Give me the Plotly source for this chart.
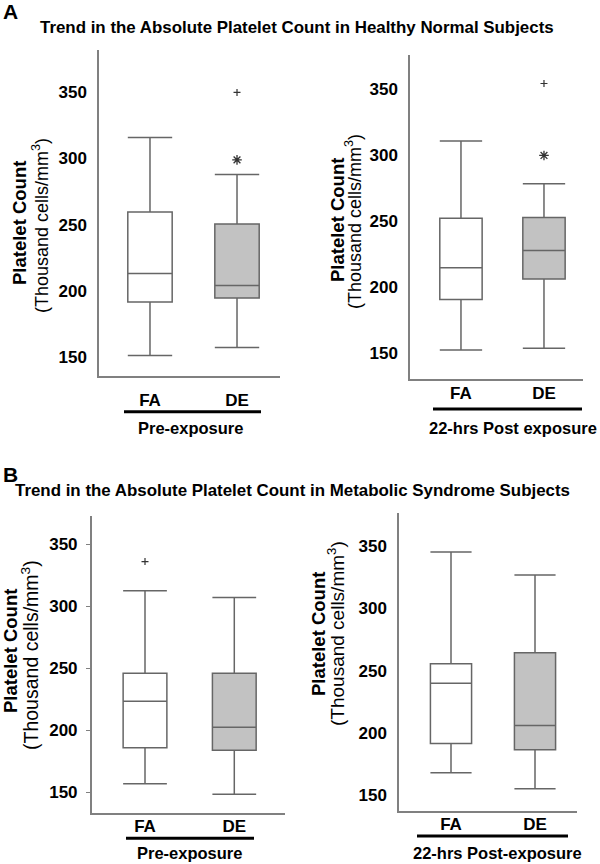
import plotly.graph_objects as go

# ---------------- data ----------------
categories = ["FA", "DE"]
y_ticks = [150, 200, 250, 300, 350]

# Panel A, Pre-exposure (healthy)
a_pre_lower = [151, 157]
a_pre_q1 = [191.5, 194.5]
a_pre_median = [213, 204]
a_pre_q3 = [259.5, 250.5]
a_pre_upper = [316, 288]
a_pre_star_x = ["DE"]
a_pre_star_y = [299]
a_pre_plus_x = ["DE"]
a_pre_plus_y = [350]

# Panel A, 22-hrs post exposure (healthy)
a_post_lower = [152.7, 154]
a_post_q1 = [191, 206.5]
a_post_median = [215, 228]
a_post_q3 = [252.5, 253]
a_post_upper = [311, 278.5]
a_post_star_x = ["DE"]
a_post_star_y = [300]
a_post_plus_x = ["DE"]
a_post_plus_y = [354.5]

# Panel B, Pre-exposure (metabolic syndrome)
b_pre_lower = [157, 148.5]
b_pre_q1 = [186, 184]
b_pre_median = [223.5, 202.5]
b_pre_q3 = [246, 246]
b_pre_upper = [312.5, 307]
b_pre_plus_x = ["FA"]
b_pre_plus_y = [336]

# Panel B, 22-hrs post-exposure (metabolic syndrome)
b_post_lower = [168, 155]
b_post_q1 = [191.5, 186.5]
b_post_median = [240, 206]
b_post_q3 = [255.5, 264.5]
b_post_upper = [345.5, 327]

title_a = "Trend in the Absolute Platelet Count in Healthy Normal Subjects"
title_b = "Trend in the Absolute Platelet Count in Metabolic Syndrome Subjects"
ytitle_1 = "Platelet Count"
ytitle_2 = "(Thousand cells/mm<sup>3</sup>)"
group_labels = ["Pre-exposure", "22-hrs Post exposure", "Pre-exposure", "22-hrs Post-exposure"]

# ---------------- style ----------------
FONT = "Liberation Sans, Arial, sans-serif"
W, H = 600, 864
fills = ["#ffffff", "#c2c2c2"]
box_line = "#666666"
axis_col = "#808080"
mark_col = "#333333"


def px(x):
    return x / W


def py(y):
    return 1 - y / H


panels = [
    dict(lower=a_pre_lower, q1=a_pre_q1, med=a_pre_median, q3=a_pre_q3, upper=a_pre_upper,
         star=(a_pre_star_x, a_pre_star_y), plus=(a_pre_plus_x, a_pre_plus_y),
         xdom=[px(99), px(280)], ydom=[py(376), py(50)], xr=[-0.586, 1.494], yr=[135.5, 382.1],
         bw=0.51, ticks=False, xstand=8),
    dict(lower=a_post_lower, q1=a_post_q1, med=a_post_median, q3=a_post_q3, upper=a_post_upper,
         star=(a_post_star_x, a_post_star_y), plus=(a_post_plus_x, a_post_plus_y),
         xdom=[px(410), px(583)], ydom=[py(379), py(55)], xr=[-0.614, 1.47], yr=[130.7, 376.1],
         bw=0.51, ticks=False, xstand=-2),
    dict(lower=b_pre_lower, q1=b_pre_q1, med=b_pre_median, q3=b_pre_q3, upper=b_pre_upper,
         star=None, plus=(b_pre_plus_x, b_pre_plus_y),
         xdom=[px(91.7), px(285)], ydom=[py(812.5), py(515.5)], xr=[-0.597, 1.568], yr=[133.8, 373.1],
         bw=0.49, ticks=True, xstand=-3),
    dict(lower=b_post_lower, q1=b_post_q1, med=b_post_median, q3=b_post_q3, upper=b_post_upper,
         star=None, plus=None,
         xdom=[px(399), px(577)], ydom=[py(811), py(513)], xr=[-0.619, 1.5], yr=[137.2, 376.8],
         bw=0.49, ticks=False, xstand=-3),
]

fig = go.Figure()
layout = dict(
    width=W, height=H, margin=dict(l=0, r=0, t=0, b=0),
    paper_bgcolor="white", plot_bgcolor="white", showlegend=False,
    font=dict(family=FONT, color="#000000"),
)

for i, p in enumerate(panels, start=1):
    xa = "x" if i == 1 else f"x{i}"
    ya = "y" if i == 1 else f"y{i}"
    for j, cat in enumerate(categories):
        fig.add_trace(go.Box(
            x=[cat], q1=[p["q1"][j]], median=[p["med"][j]], q3=[p["q3"][j]],
            lowerfence=[p["lower"][j]], upperfence=[p["upper"][j]],
            boxpoints=False, width=p["bw"], whiskerwidth=1,
            fillcolor=fills[j], line=dict(color=box_line, width=1.5),
            xaxis=xa, yaxis=ya, hoverinfo="skip",
        ))
    if p["star"] is not None:
        fig.add_trace(go.Scatter(
            x=p["star"][0], y=p["star"][1], mode="markers",
            marker=dict(symbol="asterisk-open", size=8, color=mark_col,
                        line=dict(color=mark_col, width=1.3)),
            xaxis=xa, yaxis=ya, hoverinfo="skip"))
    if p["plus"] is not None:
        fig.add_trace(go.Scatter(
            x=p["plus"][0], y=p["plus"][1], mode="markers",
            marker=dict(symbol="cross-thin-open", size=5, color=mark_col,
                        line=dict(color=mark_col, width=1.2)),
            xaxis=xa, yaxis=ya, hoverinfo="skip"))

    key = "" if i == 1 else str(i)
    layout["xaxis" + key] = dict(
        domain=p["xdom"], anchor=ya, type="category", categoryorder="array",
        categoryarray=categories, range=p["xr"], showline=True, linecolor=axis_col,
        linewidth=1.5, showgrid=False, zeroline=False, ticks="",
        tickfont=dict(family=FONT, size=17, weight="bold", color="#000"),
        ticklabelstandoff=p["xstand"], fixedrange=True,
    )
    layout["yaxis" + key] = dict(
        domain=p["ydom"], anchor=xa, range=p["yr"], tickvals=y_ticks,
        showline=True, linecolor=axis_col, linewidth=1.5, showgrid=False, zeroline=False,
        ticks="outside" if p["ticks"] else "", ticklen=4, tickcolor=axis_col, tickwidth=1.2,
        tickfont=dict(family=FONT, size=17, weight="bold", color="#000"),
        ticklabelstandoff=5 if p["ticks"] else 7, fixedrange=True,
    )

fig.update_layout(**layout)

ann = []


def add_text(text, x, y, size, bold=True, angle=0):
    ann.append(dict(text=text, x=px(x), y=py(y), xref="paper", yref="paper",
                    xanchor="center", yanchor="middle", showarrow=False, textangle=angle,
                    font=dict(family=FONT, size=size, color="#000",
                              weight="bold" if bold else "normal")))


add_text("A", 10, 12, 21)
add_text("B", 10, 474, 21)
add_text(title_a, 297, 27, 16.9)
add_text(title_b, 292.5, 490, 16.9)

ytitle_pos = [((19, 223), (40, 226), 18.5, 18),
              ((337, 220), (354, 222), 18.5, 18),
              ((10, 651), (30, 655), 18.5, 19.5),
              ((318, 634), (336, 634), 18.5, 19)]
for (l1, l2, s1, s2) in ytitle_pos:
    add_text(ytitle_1, l1[0], l1[1], s1, True, -90)
    add_text(ytitle_2, l2[0], l2[1], s2, False, -90)

group_pos = [(190, 428), (512.5, 428), (189, 853), (497, 853)]
for lab, (gx, gy) in zip(group_labels, group_pos):
    add_text(lab, gx, gy, 16.5)

underlines = [(124, 261, 411.7), (433, 582, 409), (126, 254, 838.3), (417, 568, 836)]
shapes = [dict(type="line", xref="paper", yref="paper", x0=px(a), x1=px(b), y0=py(y), y1=py(y),
               line=dict(color="#000", width=3)) for a, b, y in underlines]

fig.update_layout(annotations=ann, shapes=shapes)
fig.write_html("out.html", config={"displayModeBar": False},
               post_script="document.body.style.margin='0';document.body.style.overflow='hidden';")
